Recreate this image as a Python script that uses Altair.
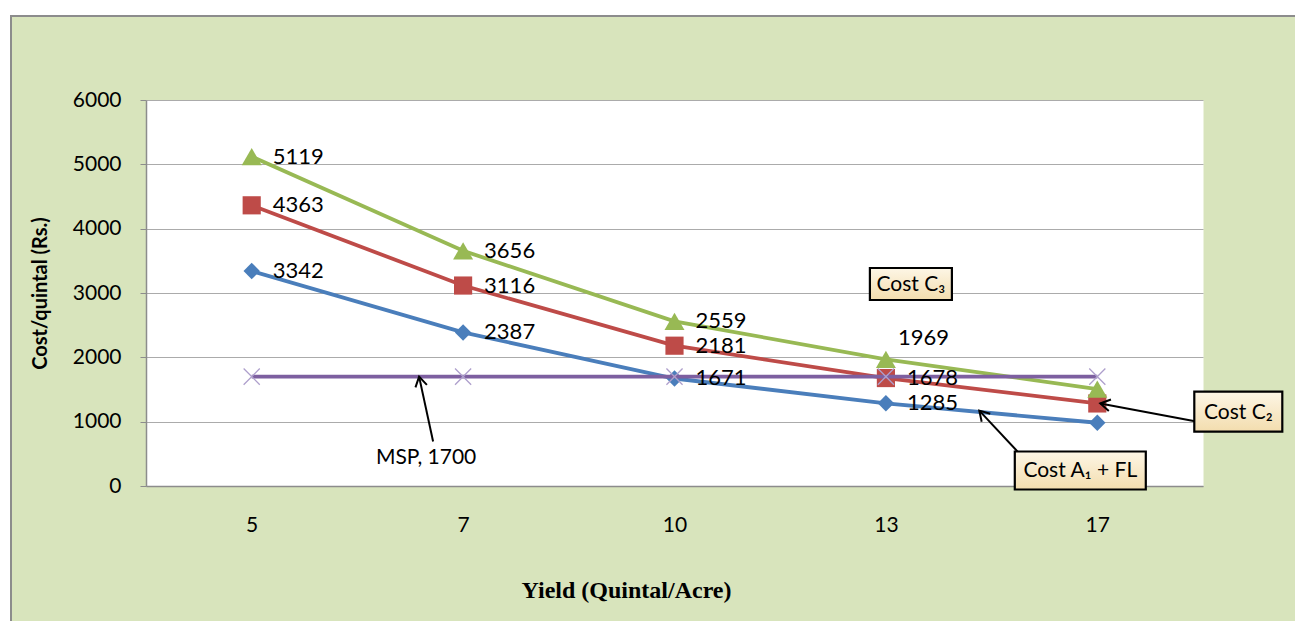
import altair as alt
import pandas as pd

# ---- data ----
yields = ["5", "7", "10", "13", "17"]
cost_a1_fl = [3342, 2387, 1671, 1285, 983]
cost_c2 = [4363, 3116, 2181, 1678, 1283]
cost_c3 = [5119, 3656, 2559, 1969, 1506]
msp = [1700, 1700, 1700, 1700, 1700]

series_names = ["Cost A1 + FL", "Cost C2", "Cost C3", "MSP"]
series_values = [cost_a1_fl, cost_c2, cost_c3, msp]
series_colors = ["#4A7EBB", "#BE4B48", "#98B954", "#7D5FA0"]
label_points = [[True, True, True, True, False],
                [True, True, True, True, False],
                [True, True, True, True, False],
                [False, False, False, False, False]]

rows = []
for name, vals, lab in zip(series_names, series_values, label_points):
    for y, v, l in zip(yields, vals, lab):
        rows.append({"yield": y, "series": name, "value": v,
                     "label": str(v) if l else ""})
df = pd.DataFrame(rows)

FONT = "Lato"
BG = "#D8E4BC"

x_enc = alt.X("yield:N", sort=yields,
              scale=alt.Scale(type="point", domain=yields, padding=0.5),
              axis=alt.Axis(title="Yield (Quintal/Acre)", ticks=False,
                            labelAngle=0, labelPadding=28, labelFontSize=21,
                            labelFont=FONT, labelColor="#000000",
                            domainColor="#8C8C8C", domainWidth=1.5,
                            grid=False,
                            titleFont="Liberation Serif", titleFontSize=24,
                            titleFontWeight="bold", titleColor="#000000",
                            titleX=480, titleY=104, titleBaseline="middle",
                            titleAlign="center"))
y_enc = alt.Y("value:Q",
              scale=alt.Scale(domain=[0, 6000], nice=False),
              axis=alt.Axis(title="Cost/quintal (Rs.)",
                            values=[0, 1000, 2000, 3000, 4000, 5000, 6000],
                            format="d", grid=True, gridColor="#ABABAB",
                            gridWidth=1, tickSize=6, tickColor="#8C8C8C",
                            domainColor="#8C8C8C", domainWidth=1.5,
                            labelPadding=19, labelFontSize=21, labelFont=FONT,
                            labelColor="#000000",
                            titleFont=FONT, titleFontSize=20,
                            titleFontWeight="bold", titleColor="#000000",
                            titleX=-106, titleY=193, titleAngle=-90,
                            titleBaseline="middle", titleAlign="center"))

shapes = ["diamond", "square", "triangle-up", "M-1,-1L1,1M-1,1L1,-1"]
sizes = [270, 330, 400, 260]

layers = []
for i, name in enumerate(series_names):
    d = df[df["series"] == name]
    line = alt.Chart(d).mark_line(color=series_colors[i], strokeWidth=3.8).encode(
        x=x_enc, y=y_enc)
    if name == "MSP":
        pts = alt.Chart(d).mark_point(shape=shapes[i], filled=False,
                                      stroke="#AE9FCC", strokeWidth=1.3,
                                      size=sizes[i], opacity=1).encode(x=x_enc, y=y_enc)
    else:
        pts = alt.Chart(d).mark_point(shape=shapes[i], filled=True,
                                      color=series_colors[i], size=sizes[i],
                                      opacity=1).encode(x=x_enc, y=y_enc)
    layers += [line, pts]

labels = alt.Chart(df).transform_filter(
    "datum.label != '' && !(datum.series == 'Cost C3' && datum.yield == '13')"
).mark_text(align="left", baseline="middle", dx=21, fontSize=22, font=FONT,
            color="#000000").encode(x=x_enc, y=y_enc, text="label:N")
label_raised = alt.Chart(df).transform_filter(
    "datum.series == 'Cost C3' && datum.yield == '13'"
).mark_text(align="left", baseline="middle", dx=12, dy=-21, fontSize=22,
            font=FONT, color="#000000").encode(x=x_enc, y=y_enc, text="label:N")
layers += [labels, label_raised]

# ---- annotations (callout boxes, text and arrows) ----
gradient = alt.Gradient(gradient="linear", x1=0, y1=0, x2=0, y2=1,
                        stops=[alt.GradientStop(offset=0, color="#FDF6E6"),
                               alt.GradientStop(offset=1, color="#F3DDAE")])


def box(cat, val, w, h, dx, text):
    d = pd.DataFrame({"yield": [cat], "value": [val], "text": [text]})
    r = h / w
    path = f"M-1,-{r:.4f}L1,-{r:.4f}L1,{r:.4f}L-1,{r:.4f}Z"
    b = alt.Chart(d).mark_point(shape=path, filled=True, fill=gradient,
                                stroke="#000000", strokeWidth=2.2, size=w * w,
                                opacity=1, xOffset=dx).encode(x=x_enc, y=y_enc)
    t = alt.Chart(d).mark_text(align="center", baseline="middle", dx=dx, dy=1,
                               fontSize=21, font=FONT + ", Noto Sans",
                               color="#000000").encode(x=x_enc, y=y_enc, text="text:N")
    return [b, t]


def arrow(cat, val_tail, off_tail, val_tip, off_tip, angle):
    d = pd.DataFrame({"yield": [cat], "value": [val_tail], "value2": [val_tip]})
    shaft = alt.Chart(d).mark_rule(color="#000000", strokeWidth=2,
                                   xOffset=off_tail, x2Offset=off_tip).encode(
        x=x_enc, x2="yield:N", y=y_enc, y2="value2:Q")
    head = alt.Chart(d).mark_point(shape="M-1,-0.6L0,0L-1,0.6", filled=False,
                                   stroke="#000000", strokeWidth=2, size=380,
                                   opacity=1, angle=angle, xOffset=off_tip).encode(
        x=x_enc, y=alt.Y("value2:Q"))
    return [shaft, head]


layers += arrow("17", 1002, 99, 1283, 3, 190.6)
layers += arrow("17", 474, -76, 1172, -118, 227)
layers += arrow("7", 691, -30, 1700, -44, 257.7)
layers += box("13", 3140, 82, 32, 25, "Cost C\u2083")
layers += box("17", 1157, 88, 40, 141, "Cost C\u2082")
layers += box("17", 241, 131, 38, -17, "Cost A\u2081 + FL")

msp_text = alt.Chart(pd.DataFrame({"yield": ["7"], "value": [443],
                                   "text": ["MSP, 1700"]})).mark_text(
    align="center", baseline="middle", dx=-37, fontSize=21, font=FONT,
    color="#000000").encode(x=x_enc, y=y_enc, text="text:N")
layers.append(msp_text)

# ---- outer frame ----
one = pd.DataFrame({"a": [0]})
strip_top = alt.Chart(one).mark_rect(fill="#FFFFFF").encode(
    x=alt.value(-140), x2=alt.value(1170), y=alt.value(-94), y2=alt.value(-85))
strip_left = alt.Chart(one).mark_rect(fill="#FFFFFF").encode(
    x=alt.value(-140), x2=alt.value(-136), y=alt.value(-94), y2=alt.value(540))
frame = alt.Chart(one).mark_rect(fill="transparent", stroke="#8C8C8C",
                                 strokeWidth=2).encode(
    x=alt.value(-135), x2=alt.value(1170), y=alt.value(-84), y2=alt.value(545))
layers = [strip_top, strip_left, frame] + layers

chart = alt.layer(*layers).properties(
    width=1057, height=386,
    padding={"left": 138, "top": 92, "right": 92, "bottom": 135},
    autosize=alt.AutoSizeParams(type="none"),
    background=BG,
).configure_view(fill="#FFFFFF", stroke="transparent")

chart.save("out.html", embed_options={"renderer": "svg", "actions": False})
